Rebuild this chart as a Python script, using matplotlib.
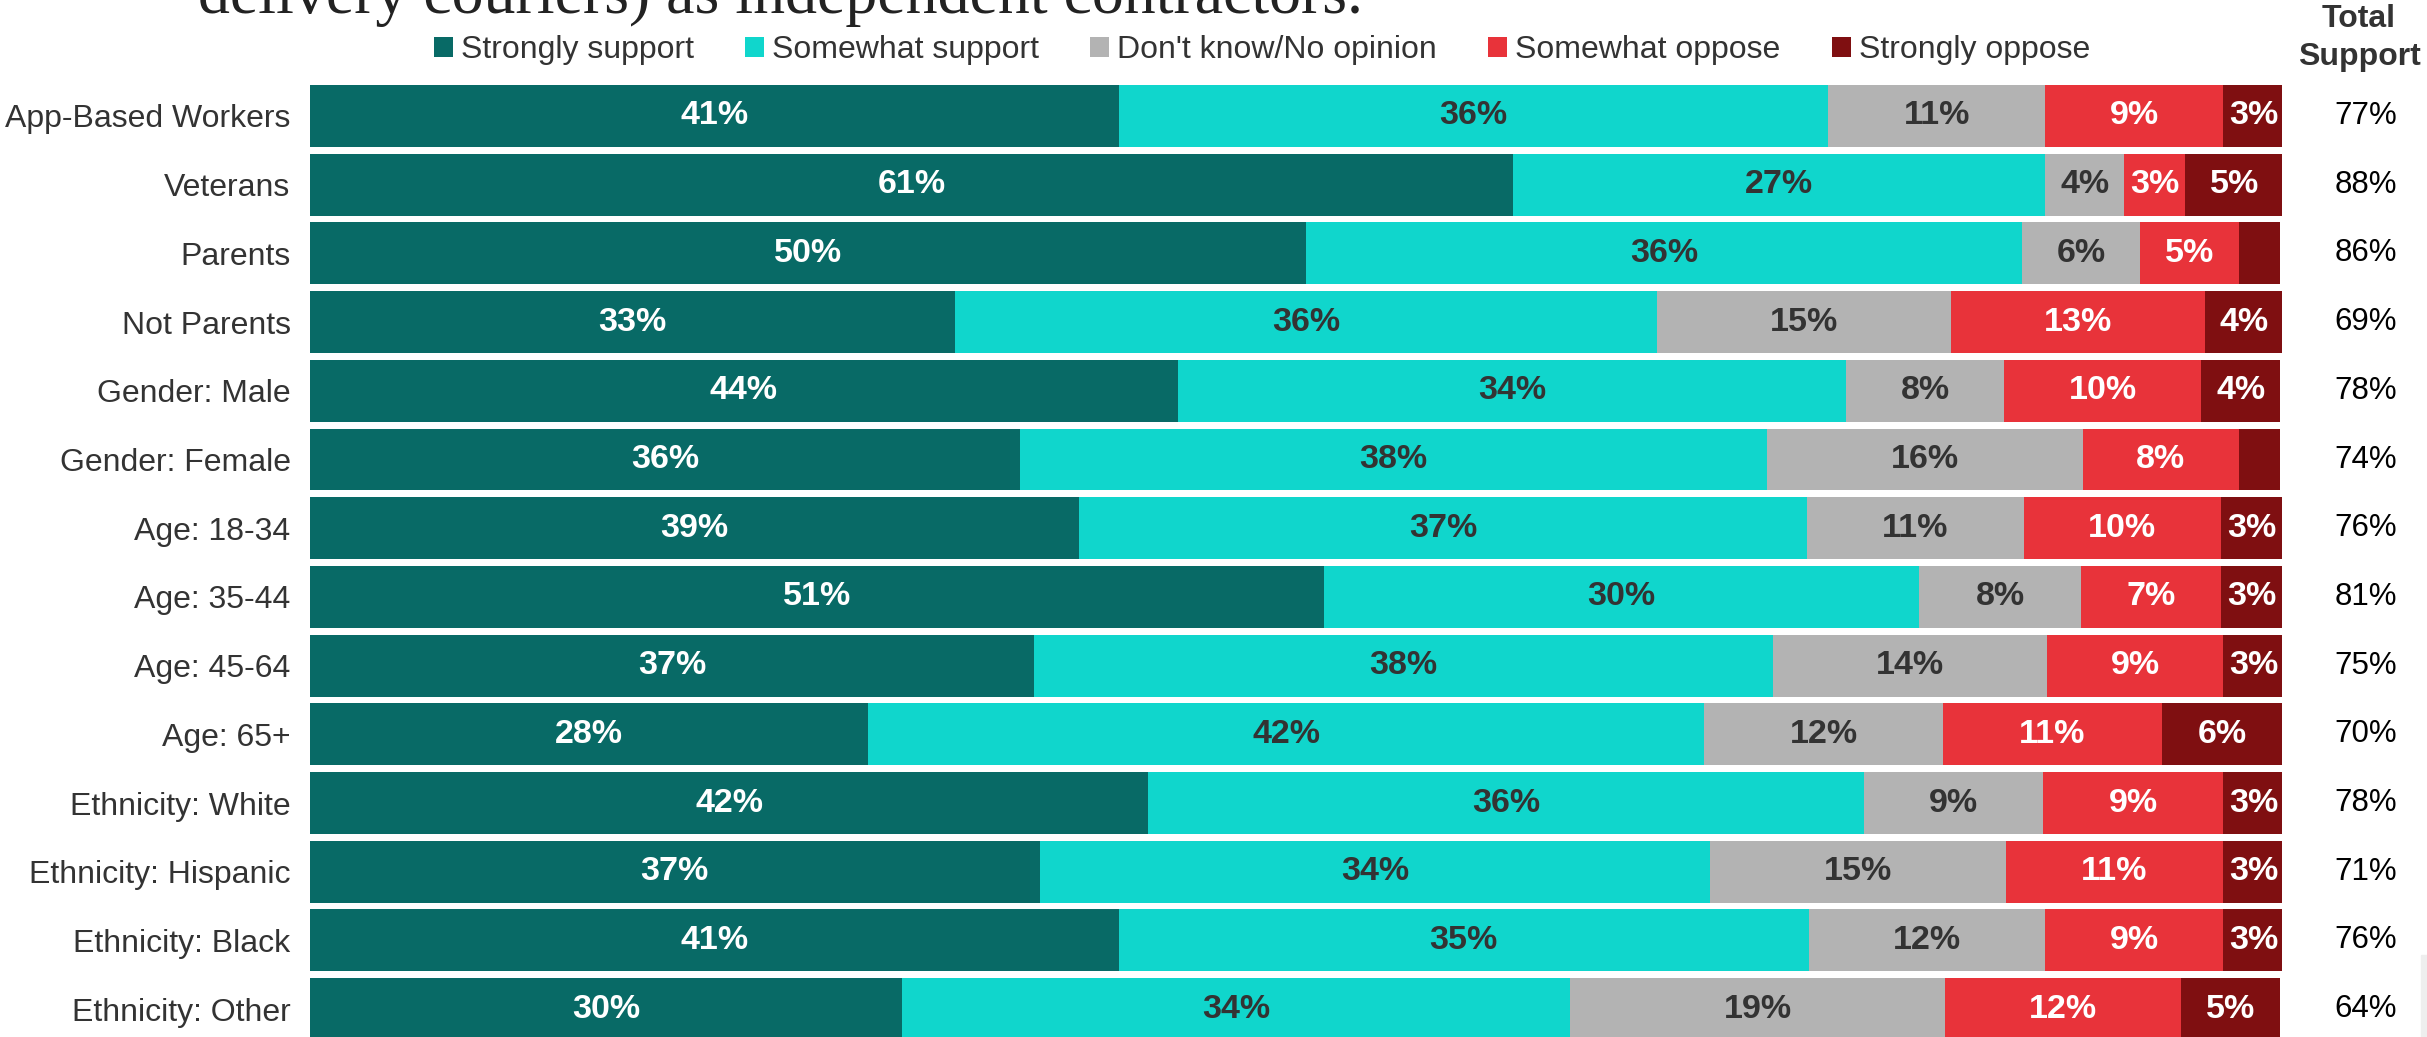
import matplotlib
matplotlib.use("Agg")
import matplotlib.pyplot as plt
from matplotlib.patches import Rectangle

# ----- data -----
groups = ["App-Based Workers", "Veterans", "Parents", "Not Parents",
          "Gender: Male", "Gender: Female", "Age: 18-34", "Age: 35-44",
          "Age: 45-64", "Age: 65+", "Ethnicity: White", "Ethnicity: Hispanic",
          "Ethnicity: Black", "Ethnicity: Other"]

strongly_support = [41.0, 61.0, 50.5, 32.7, 44.0, 36.0, 39.0, 51.4, 36.7, 28.3, 42.5, 37.0, 41.0, 30.0]
somewhat_support = [36.0, 27.0, 36.3, 35.6, 33.9, 37.9, 36.9, 30.2, 37.5, 42.4, 36.3, 34.0, 35.0, 33.9]
dont_know        = [11.0, 4.0, 6.0, 14.9, 8.0, 16.0, 11.0, 8.2, 13.9, 12.1, 9.1, 15.0, 12.0, 19.0]
somewhat_oppose  = [9.0, 3.1, 5.0, 12.9, 10.0, 7.9, 10.0, 7.1, 8.9, 11.1, 9.1, 11.0, 9.0, 12.0]
strongly_oppose  = [3.1, 5.0, 2.1, 4.0, 4.0, 2.1, 3.1, 3.1, 3.1, 6.1, 3.1, 3.1, 3.1, 5.0]

total_support = [77, 88, 86, 69, 78, 74, 76, 81, 75, 70, 78, 71, 76, 64]

series_names = ["Strongly support", "Somewhat support", "Don't know/No opinion",
                "Somewhat oppose", "Strongly oppose"]
series = [strongly_support, somewhat_support, dont_know, somewhat_oppose, strongly_oppose]
colors = ["#086A66", "#10D6CC", "#B3B3B3", "#E8333A", "#7F0F11"]
label_colors = ["white", "#333333", "#333333", "white", "white"]

W, H = 2427, 1037
fig = plt.figure(figsize=(W / 100, H / 100), dpi=100)

# axes placed in pixel terms of the reference
pitch = 68.7
top_px = 116 - 0.5 * pitch
ax = fig.add_axes([310 / W, 0, (2282 - 310) / W, 1 - top_px / H])

ypos = list(range(len(groups)))
left = [0.0] * len(groups)
for vals, name, col, tcol in zip(series, series_names, colors, label_colors):
    ax.barh(ypos, vals, left=left, height=0.9, color=col, label=name, linewidth=0)
    for i, v in enumerate(vals):
        if v >= 2.5:
            ax.text(left[i] + v / 2, i, f"{v:.0f}%", ha="center", va="center",
                    color=tcol, fontsize=24.5, fontweight="bold", family="Liberation Sans")
    left = [l + v for l, v in zip(left, vals)]

ax.set_xlim(0, 100)
ax.set_ylim(13 + (1037 - (116 + 13 * pitch)) / pitch, -0.5)
ax.set_yticks(ypos)
ax.set_yticklabels(groups, fontsize=23, color="#333333", family="Liberation Sans")
ax.tick_params(axis="y", length=0, pad=14)
ax.set_xticks([])
for s in ax.spines.values():
    s.set_visible(False)

# total support column, to the right of the bars
x_total = 1.0 + (2366 - 2282) / (2282 - 310)
for i, t in enumerate(total_support):
    ax.text(x_total, i, f"{t}%", transform=ax.get_yaxis_transform(), ha="center",
            va="center", fontsize=22.5, color="black", family="Liberation Sans")

for word, base in [("Total", 27), ("Support", 65)]:
    fig.text(2359 / W, 1 - base / H, word, ha="center", va="baseline",
             fontsize=23, fontweight="bold", color="#333333",
             family="Liberation Sans")

# cut-off title from the original slide
fig.text(198 / W, 1 - 13 / H, "delivery couriers) as independent contractors.",
         ha="left", va="baseline", fontsize=46, color="#222222",
         family="Liberation Serif")

handles, labels = ax.get_legend_handles_labels()
fig.legend(handles, labels, loc="center", ncol=5, frameon=False,
           bbox_to_anchor=(1262 / W, 1 - 50 / H),
           handlelength=0.6, handleheight=0.6, handletextpad=0.25,
           columnspacing=1.6, labelcolor="#333333",
           prop={"family": "Liberation Sans", "size": 23})

# small grey strip at the bottom right of the original screenshot
fig.patches.append(Rectangle((2421 / W, 0), 6 / W, (1037 - 955) / H,
                             transform=fig.transFigure, color="#EEEEEE", zorder=0))

fig.savefig("out.png", dpi=100)
